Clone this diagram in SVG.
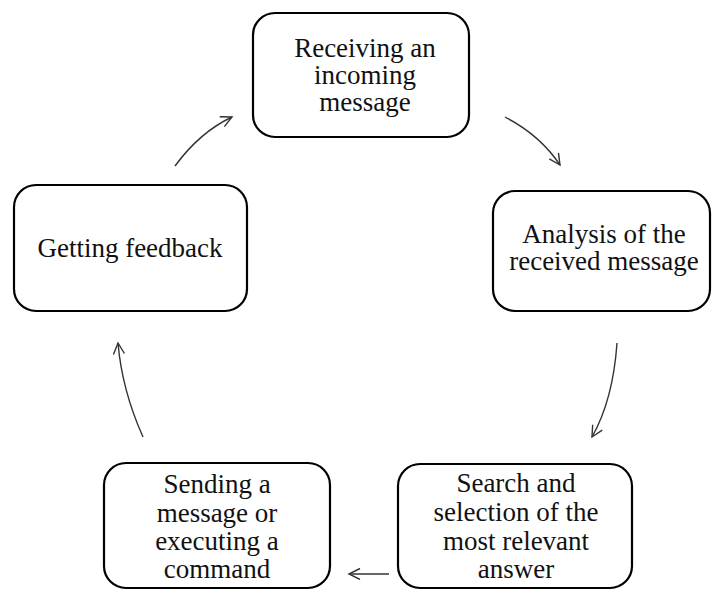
<svg xmlns="http://www.w3.org/2000/svg" width="712" height="590" viewBox="0 0 712 590">
<defs>
<style>
.box{fill:#fff;stroke:#000;stroke-width:2.2}
.t{font-family:"Liberation Serif","Times New Roman",serif;font-size:27px;fill:#111;text-anchor:middle}
.c{fill:none;stroke:#333;stroke-width:1.4}
</style>
<marker id="ah" markerWidth="14" markerHeight="14" refX="12" refY="6" orient="auto" markerUnits="userSpaceOnUse">
<path d="M1,0.5 L12,6 L1,11.5" fill="none" stroke="#333" stroke-width="1.4"/>
</marker>
</defs>
<rect width="712" height="590" fill="#fff"/>
<g id="connectors">
<path class="c" d="M175,166 Q200,132 232,117" marker-end="url(#ah)"/>
<path class="c" d="M505,117 Q540,135 560,165" marker-end="url(#ah)"/>
<path class="c" d="M617,343 Q613,400 592,437" marker-end="url(#ah)"/>
<path class="c" d="M389,574 L349,574" marker-end="url(#ah)"/>
<path class="c" d="M143,437 Q122,390 118,343" marker-end="url(#ah)"/>
</g>
<g id="n1">
<rect class="box" x="253" y="13" width="216" height="124" rx="22"/>
<text class="t" x="365" y="57">Receiving an</text>
<text class="t" x="365" y="84">incoming</text>
<text class="t" x="365" y="111">message</text>
</g>
<g id="n2">
<rect class="box" x="493" y="191" width="217" height="120" rx="22"/>
<text class="t" x="604" y="243">Analysis of the</text>
<text class="t" x="604" y="270">received message</text>
</g>
<g id="n3">
<rect class="box" x="398" y="464" width="234" height="124" rx="22"/>
<text class="t" x="516" y="492">Search and</text>
<text class="t" x="516" y="521">selection of the</text>
<text class="t" x="516" y="550">most relevant</text>
<text class="t" x="516" y="578">answer</text>
</g>
<g id="n4">
<rect class="box" x="104" y="463" width="226" height="125" rx="22"/>
<text class="t" x="217" y="493">Sending a</text>
<text class="t" x="217" y="522">message or</text>
<text class="t" x="217" y="550">executing a</text>
<text class="t" x="217" y="578">command</text>
</g>
<g id="n5">
<rect class="box" x="14" y="185" width="233" height="126" rx="22"/>
<text class="t" x="130" y="257">Getting feedback</text>
</g>
</svg>
